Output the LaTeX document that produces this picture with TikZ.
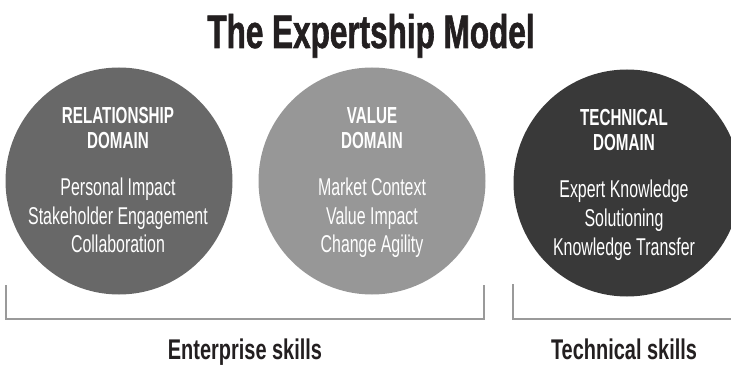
\documentclass[tikz,border=0pt]{standalone}
\usepackage{fontspec}
\usepackage{xcolor}
\newfontfamily\condsans[FakeStretch=0.655]{Liberation Sans}
\newfontfamily\skillsans[FakeStretch=0.70]{Liberation Sans}
\newfontfamily\titlesans[FakeStretch=0.67, FakeBold=1.2]{Liberation Sans}
\definecolor{inkblack}{HTML}{231F20}
\definecolor{relgray}{HTML}{686868}
\definecolor{valgray}{HTML}{979797}
\definecolor{techgray}{HTML}{393939}
\definecolor{linegray}{HTML}{9A9A9A}

\begin{document}
\begin{tikzpicture}[x=1pt, y=-1pt]
  \tikzset{domaincircle/.style = {circle, minimum size=227pt, inner sep=0pt, draw=none},
           heading/.style      = {anchor=base, inner sep=0pt, text=white,
                                  font=\condsans\bfseries\fontsize{23.2}{25}\selectfont},
           item/.style         = {anchor=base, inner sep=0pt, text=white,
                                  font=\condsans\fontsize{24.3}{26}\selectfont},
           skill/.style        = {anchor=base, inner sep=0pt, text=inkblack,
                                  font=\skillsans\bfseries\fontsize{28.5}{30}\selectfont},
           bracket/.style      = {draw=linegray, line width=2pt}}
  \useasboundingbox (0,0) rectangle (731,366);

% title

\node[anchor=base, inner sep=0pt, text=inkblack,
      font=\titlesans\bfseries\fontsize{47}{50}\selectfont] (title) at (371,48) {The Expertship Model};

% domains

\node[domaincircle, fill=relgray]  (rel)  at (119,181) {};
\node[domaincircle, fill=valgray]  (val)  at (372,181) {};
\node[domaincircle, fill=techgray] (tech) at (627,183) {};

% relationship domain

\node[heading] (relA) at (118,124) {RELATIONSHIP};
\node[heading] (relB) at (118,149) {DOMAIN};
\node[item]    (rel1) at (118,196) {Personal Impact};
\node[item]    (rel2) at (118,224.5) {Stakeholder Engagement};
\node[item]    (rel3) at (118,253) {Collaboration};

% value domain

\node[heading] (valA) at (372,124) {VALUE};
\node[heading] (valB) at (372,149) {DOMAIN};
\node[item]    (val1) at (372,196) {Market Context};
\node[item]    (val2) at (372,224.5) {Value Impact};
\node[item]    (val3) at (372,253) {Change Agility};

% technical domain

\node[heading] (techA) at (624,126) {TECHNICAL};
\node[heading] (techB) at (624,151) {DOMAIN};
\node[item]    (tech1) at (624,198) {Expert Knowledge};
\node[item]    (tech2) at (624,226.5) {Solutioning};
\node[item]    (tech3) at (624,255) {Knowledge Transfer};

% brackets

\coordinate (entTL) at (6,285);
\coordinate (entBL) at (6,319);
\coordinate (entBR) at (484,319);
\coordinate (entTR) at (484,285);
\draw[bracket] (entTL) -- (entBL) -- (entBR) -- (entTR);

\coordinate (tecTL) at (513,284);
\coordinate (tecBL) at (513,319);
\coordinate (tecBR) at (740,319);
\draw[bracket] (tecTL) -- (tecBL) -- (tecBR);

% skills

\node[skill] (entskills) at (245,359) {Enterprise skills};
\node[skill] (tecskills) at (624,359) {Technical skills};

\end{tikzpicture}
\end{document}
